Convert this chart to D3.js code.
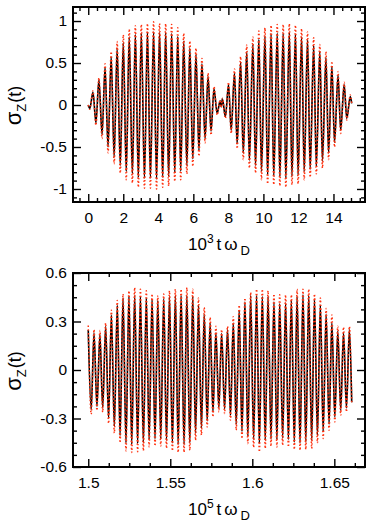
<!DOCTYPE html>
<html>
<head>
<meta charset="utf-8">
<style>
    body { margin: 0; background: #fff; }
    text { font-family: "Liberation Sans", Arial, Helvetica, sans-serif; }
</style>
</head>
<body>
    <div id="vizDiv"></div>

    <script src="https://d3js.org/d3.v7.min.js"></script>
    <script>
        // ---- values ----
        // top panel (10^3 t wD): times of maxima / minima, black solid and red dotted curves
        const topPeakT = [0.27, 0.61, 0.96, 1.31, 1.65, 2.00, 2.34, 2.69, 3.03, 3.38, 3.73, 4.07, 4.42, 4.76, 5.11, 5.45, 5.80, 6.15, 6.49, 6.84, 7.18, 7.53,
            7.66, 8.01, 8.35, 8.70, 9.05, 9.40, 9.74, 10.09, 10.44, 10.79, 11.13, 11.48, 11.83, 12.18, 12.52, 12.87, 13.22, 13.57, 13.91, 14.26, 14.61, 14.96];
        const topPeakRed = [0.17, 0.325, 0.49, 0.635, 0.755, 0.835, 0.905, 0.945, 0.96, 0.97, 0.99, 0.97, 0.97, 0.96, 0.92, 0.855, 0.76, 0.675, 0.555, 0.38, 0.22, 0.06,
            0.08, 0.27, 0.43, 0.575, 0.715, 0.81, 0.88, 0.92, 0.95, 0.96, 0.96, 0.97, 0.95, 0.91, 0.87, 0.80, 0.72, 0.635, 0.52, 0.40, 0.27, 0.12];
        const topPeakBlack = [0.15, 0.30, 0.45, 0.575, 0.675, 0.745, 0.81, 0.84, 0.855, 0.865, 0.87, 0.865, 0.865, 0.85, 0.815, 0.76, 0.675, 0.6, 0.49, 0.34, 0.19, 0.05,
            0.07, 0.24, 0.38, 0.51, 0.63, 0.72, 0.78, 0.82, 0.845, 0.855, 0.855, 0.86, 0.845, 0.81, 0.775, 0.71, 0.64, 0.565, 0.46, 0.355, 0.24, 0.10];
        const topTroughT = [0.09, 0.44, 0.79, 1.13, 1.48, 1.83, 2.17, 2.52, 2.86, 3.21, 3.55, 3.90, 4.25, 4.59, 4.94, 5.28, 5.63, 5.97, 6.32, 6.67, 7.01, 7.36,
            7.59, 7.83, 8.16, 8.50, 8.85, 9.20, 9.55, 9.89, 10.24, 10.59, 10.94, 11.28, 11.63, 11.98, 12.33, 12.67, 13.02, 13.37, 13.72, 14.06, 14.41, 14.76];
        const topTroughRed = [-0.05, -0.24, -0.40, -0.57, -0.70, -0.81, -0.89, -0.93, -0.98, -0.99, -0.99, -1.0, -0.98, -0.965, -0.91, -0.89, -0.82, -0.73, -0.61, -0.45, -0.357, -0.12,
            -0.03, -0.16, -0.34, -0.52, -0.65, -0.75, -0.81, -0.89, -0.94, -0.95, -0.965, -0.98, -0.95, -0.94, -0.89, -0.86, -0.82, -0.75, -0.65, -0.50, -0.34, -0.18];
        const topTroughBlack = [-0.04, -0.21, -0.35, -0.50, -0.62, -0.72, -0.79, -0.82, -0.86, -0.87, -0.87, -0.88, -0.86, -0.85, -0.80, -0.785, -0.72, -0.64, -0.54, -0.40, -0.31, -0.10,
            -0.02, -0.14, -0.30, -0.46, -0.575, -0.66, -0.72, -0.79, -0.83, -0.845, -0.855, -0.87, -0.845, -0.835, -0.79, -0.765, -0.73, -0.665, -0.575, -0.445, -0.30, -0.16];
        const topEndT = [0, 15.04];
        const topEndRed = [0, 0.02];
        const topEndBlack = [0, 0.02];

        // bottom panel (10^5 t wD)
        const lowPeakT = [1.5000, 1.5035, 1.5071, 1.5106, 1.5141, 1.5177, 1.5212, 1.5248, 1.5283, 1.5318, 1.5354, 1.5389, 1.5424, 1.5460, 1.5495, 1.5531,
            1.5566, 1.5601, 1.5637, 1.5672, 1.5707, 1.5743, 1.5778, 1.5813, 1.5849, 1.5884, 1.5920, 1.5955, 1.5990, 1.6026, 1.6061, 1.6096,
            1.6132, 1.6167, 1.6203, 1.6238, 1.6273, 1.6309, 1.6344, 1.6379, 1.6415, 1.6450, 1.6485, 1.6521, 1.6556, 1.6592];
        const lowPeakRed = [0.275, 0.25, 0.245, 0.29, 0.37, 0.43, 0.47, 0.49, 0.51, 0.50, 0.49, 0.47, 0.46, 0.47, 0.49, 0.50,
            0.50, 0.51, 0.50, 0.445, 0.387, 0.325, 0.27, 0.25, 0.27, 0.33, 0.40, 0.445, 0.48, 0.50, 0.50, 0.49,
            0.47, 0.465, 0.465, 0.465, 0.50, 0.50, 0.50, 0.47, 0.445, 0.38, 0.34, 0.27, 0.265, 0.27];
        const lowPeakBlack = [0.248, 0.228, 0.217, 0.27, 0.34, 0.40, 0.445, 0.455, 0.46, 0.455, 0.445, 0.435, 0.43, 0.44, 0.455, 0.46,
            0.46, 0.46, 0.455, 0.40, 0.345, 0.29, 0.23, 0.225, 0.25, 0.29, 0.37, 0.42, 0.46, 0.46, 0.455, 0.455,
            0.42, 0.41, 0.415, 0.43, 0.455, 0.465, 0.46, 0.435, 0.40, 0.345, 0.29, 0.24, 0.23, 0.25];
        const lowTroughT = [1.5018, 1.5053, 1.5088, 1.5124, 1.5159, 1.5194, 1.5230, 1.5265, 1.5301, 1.5336, 1.5371, 1.5407, 1.5442, 1.5477, 1.5513,
            1.5548, 1.5584, 1.5619, 1.5654, 1.5690, 1.5725, 1.5760, 1.5796, 1.5831, 1.5867, 1.5902, 1.5937, 1.5973, 1.6008, 1.6043,
            1.6079, 1.6114, 1.6150, 1.6185, 1.6220, 1.6256, 1.6291, 1.6326, 1.6362, 1.6397, 1.6432, 1.6468, 1.6503, 1.6539, 1.6574];
        const lowTroughRed = [-0.273, -0.25, -0.26, -0.33, -0.39, -0.45, -0.50, -0.51, -0.505, -0.50, -0.475, -0.47, -0.47, -0.485, -0.50,
            -0.51, -0.51, -0.497, -0.435, -0.403, -0.352, -0.29, -0.259, -0.269, -0.31, -0.372, -0.424, -0.455, -0.48, -0.507,
            -0.486, -0.472, -0.476, -0.466, -0.476, -0.492, -0.497, -0.492, -0.486, -0.451, -0.424, -0.372, -0.321, -0.279, -0.259];
        const lowTroughBlack = [-0.245, -0.225, -0.235, -0.30, -0.35, -0.405, -0.45, -0.46, -0.455, -0.45, -0.43, -0.425, -0.425, -0.435, -0.45,
            -0.46, -0.46, -0.45, -0.39, -0.36, -0.315, -0.26, -0.235, -0.24, -0.28, -0.335, -0.38, -0.41, -0.43, -0.455,
            -0.435, -0.425, -0.43, -0.42, -0.43, -0.445, -0.45, -0.445, -0.435, -0.405, -0.38, -0.335, -0.29, -0.25, -0.235];
        const lowEndT = [1.6606];
        const lowEndRed = [-0.2];
        const lowEndBlack = [-0.2];

        // tick labels
        const topXTicks = [0, 2, 4, 6, 8, 10, 12, 14];
        const topYTicks = [-1, -0.5, 0, 0.5, 1];
        const topYLabels = ["-1", "-0.5", "0", "0.5", "1"];
        const lowXTicks = [1.5, 1.55, 1.6, 1.65];
        const lowXLabels = ["1.5", "1.55", "1.6", "1.65"];
        const lowYTicks = [-0.6, -0.3, 0, 0.3, 0.6];
        const lowYLabels = ["-0.6", "-0.3", "0", "0.3", "0.6"];

        const W = 374, H = 530;
        const left = 73, right = 365;
        const red = "#ff3311";

        const svg = d3.select("#vizDiv")
            .append("svg")
            .attr("width", W)
            .attr("height", H);

        function series(times, vals) {
            return d3.sort(times.map((t, i) => ({ t: t, v: vals[i] })), d => d.t);
        }

        function drawPanel(p) {
            const x = d3.scaleLinear().domain(p.xDomain).range([left, right]);
            const y = d3.scaleLinear().domain(p.yDomain).range([p.bottom, p.top]);
            const g = svg.append("g");

            g.append("clipPath").attr("id", "clip-" + p.name)
                .append("rect")
                .attr("x", left).attr("y", p.top)
                .attr("width", right - left).attr("height", p.bottom - p.top);

            const line = d3.line()
                .x(d => x(d.t))
                .y(d => y(d.v))
                .curve(d3.curveMonotoneX);

            g.append("path")
                .datum(series(p.black[0], p.black[1]))
                .attr("d", line)
                .attr("fill", "none")
                .attr("stroke", "#000")
                .attr("stroke-width", 1.6)
                .attr("clip-path", "url(#clip-" + p.name + ")");

            g.append("path")
                .datum(series(p.red[0], p.red[1]))
                .attr("d", line)
                .attr("fill", "none")
                .attr("stroke", red)
                .attr("stroke-width", 1.5)
                .attr("stroke-dasharray", "1.5 2.2")
                .attr("clip-path", "url(#clip-" + p.name + ")");

            // ticks on all four sides, pointing inward
            const xMinor = p.xMinor.filter(v => !p.xTicks.some(m => Math.abs(m - v) < 1e-9));
            const yMinor = p.yMinor.filter(v => !p.yTicks.some(m => Math.abs(m - v) < 1e-9));

            const axes = [
                [d3.axisBottom(x).tickValues(p.xTicks).tickSize(-8).tickPadding(10).tickFormat((d, i) => p.xLabels[i]), `translate(0,${p.bottom})`],
                [d3.axisBottom(x).tickValues(xMinor).tickSize(-4).tickFormat(""), `translate(0,${p.bottom})`],
                [d3.axisTop(x).tickValues(p.xTicks).tickSize(-8).tickFormat(""), `translate(0,${p.top})`],
                [d3.axisTop(x).tickValues(xMinor).tickSize(-4).tickFormat(""), `translate(0,${p.top})`],
                [d3.axisLeft(y).tickValues(p.yTicks).tickSize(-8).tickPadding(6).tickFormat((d, i) => p.yLabels[i]), `translate(${left},0)`],
                [d3.axisLeft(y).tickValues(yMinor).tickSize(-4).tickFormat(""), `translate(${left},0)`],
                [d3.axisRight(y).tickValues(p.yTicks).tickSize(-8).tickFormat(""), `translate(${right},0)`],
                [d3.axisRight(y).tickValues(yMinor).tickSize(-4).tickFormat(""), `translate(${right},0)`]
            ];
            axes.forEach(([ax, tr]) => {
                const a = g.append("g").attr("transform", tr).call(ax);
                a.select(".domain").remove();
                a.selectAll("line").attr("stroke", "#000").attr("stroke-width", 1.4);
                a.selectAll("text")
                    .attr("fill", "#000")
                    .style("font-family", '"Liberation Sans", Arial, sans-serif')
                    .style("font-size", "15.5px");
            });

            g.append("rect")
                .attr("x", left).attr("y", p.top)
                .attr("width", right - left).attr("height", p.bottom - p.top)
                .attr("fill", "none")
                .attr("stroke", "#000")
                .attr("stroke-width", 2);

            // axis titles
            const xt = g.append("text")
                .attr("x", (left + right) / 2)
                .attr("y", p.bottom + 48)
                .attr("text-anchor", "middle")
                .style("font-size", "17px");
            xt.append("tspan").text("10");
            xt.append("tspan").attr("dy", -7).style("font-size", "12px").text(p.exp);
            xt.append("tspan").attr("dy", 7).attr("dx", 3).text("t");
            xt.append("tspan").attr("dx", 3).text("\u03c9");
            xt.append("tspan").attr("dx", 3).attr("dy", 5).style("font-size", "13px").text("D");

            const yt = g.append("text")
                .attr("transform", `translate(21,${(p.top + p.bottom) / 2 + 1}) rotate(-90)`)
                .attr("text-anchor", "middle")
                .style("font-size", "18px");
            yt.append("tspan").style("font-size", "22px").text("\u03c3");
            yt.append("tspan").attr("dy", 5).style("font-size", "13px").text("Z");
            yt.append("tspan").attr("dy", -5).attr("dx", 1).text("(t)");
        }

        drawPanel({
            name: "top", top: 7, bottom: 202,
            xDomain: [-0.87, 15.8], yDomain: [-1.155, 1.167],
            xTicks: topXTicks, xLabels: topXTicks.map(String),
            xMinor: d3.range(-0.5, 15.6, 0.5),
            yTicks: topYTicks, yLabels: topYLabels,
            yMinor: d3.range(-11, 12).map(v => v / 10),
            exp: "3",
            black: [topPeakT.concat(topTroughT, topEndT), topPeakBlack.concat(topTroughBlack, topEndBlack)],
            red: [topPeakT.concat(topTroughT, topEndT), topPeakRed.concat(topTroughRed, topEndRed)]
        });

        drawPanel({
            name: "low", top: 273, bottom: 467,
            xDomain: [1.4907, 1.6687], yDomain: [-0.6, 0.6],
            xTicks: lowXTicks, xLabels: lowXLabels,
            xMinor: d3.range(0, 14).map(v => 1.5 + v * 0.0125),
            yTicks: lowYTicks, yLabels: lowYLabels,
            yMinor: d3.range(-8, 9).map(v => v * 0.075),
            exp: "5",
            black: [lowPeakT.concat(lowTroughT, lowEndT), lowPeakBlack.concat(lowTroughBlack, lowEndBlack)],
            red: [lowPeakT.concat(lowTroughT, lowEndT), lowPeakRed.concat(lowTroughRed, lowEndRed)]
        });
    </script>
</body>
</html>
